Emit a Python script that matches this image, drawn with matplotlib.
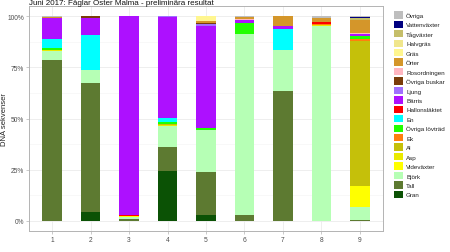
import numpy as np
import matplotlib
matplotlib.use('Agg')
import matplotlib.pyplot as plt
from matplotlib.patches import Patch
from matplotlib.ticker import FixedLocator, PercentFormatter

plt.rcParams['font.family'] = ['Liberation Sans', 'DejaVu Sans']

title = 'Juni 2017: Fåglar Öster Malma - preliminära resultat'
samples = ['1', '2', '3', '4', '5', '6', '7', '8', '9']

# stacking order, bottom to top
groups = ['Gran', 'Tall', 'Björk', 'Videväxter', 'Asp', 'Al', 'Ek', 'Övriga lövträd',
          'En', 'Hallonsläktet', 'Bärris', 'Ljung', 'Övriga buskar', 'Rosordningen',
          'Örter', 'Gräs', 'Halvgräs', 'Tågväxter', 'Vattenväxter', 'Övriga']
colors = ['#0b5205', '#5d7a31', '#b6ffb5', '#ffff00', '#eaea00', '#c5c00a', '#ff7f0e', '#22ff00',
          '#00ffff', '#ff0000', '#ad10ff', '#a070ff', '#7a3c0a', '#ffb6c1',
          '#d4962a', '#fff68f', '#f0e68c', '#c5be6a', '#000080', '#bebebe']

# shares (%) per sample, one list per group
gran          = [0,    4.2,  0,    24.5, 2.8,  0,    0,    0,    0]
tall          = [78.6, 63.1, 0.8,  11.4, 21.2, 2.8,  63.4, 0,    0.5]
bjork         = [4.2,  6.5,  1.2,  10.6, 20.5, 88.4, 20.3, 95.2, 6.0]
videvaxter    = [0.3,  0,    0.3,  0,    0,    0,    0,    0,    10.5]
asp           = [0.2,  0,    0,    0.3,  0,    0,    0,    0.6,  0]
al            = [0.2,  0,    0,    0.3,  0,    0.3,  0,    0,    71.1]
ek            = [0,    0,    0,    0,    0,    0,    0,    0.6,  1.0]
ovriga_lov    = [1.2,  0,    0,    1.1,  1.1,  5.0,  0,    0,    1.2]
en            = [4.4,  17.0, 0,    2.0,  0,    0,    10.0, 0,    0]
hallon        = [0,    0,    0.5,  0,    0,    0,    0,    1.0,  0]
barris        = [9.8,  8.1,  97.2, 49.5, 49.4, 1.7,  1.6,  0,    1.0]
ljung         = [0.2,  0,    0,    0.3,  1.1,  0,    0,    0,    0]
ovriga_buskar = [0,    1.1,  0,    0,    0.8,  0,    0,    0,    0]
rosordningen  = [0,    0,    0,    0,    0,    0.5,  0,    0,    0.5]
orter         = [0.6,  0,    0,    0,    0.8,  0.8,  4.7,  1.6,  6.6]
gras          = [0,    0,    0,    0,    2.3,  0,    0,    0,    0]
halvgras      = [0,    0,    0,    0,    0,    0,    0,    0,    0]
tagvaxter     = [0,    0,    0,    0,    0,    0,    0,    0,    0.6]
vattenvaxter  = [0,    0,    0,    0,    0,    0,    0,    0,    0.6]
ovriga        = [0.3,  0,    0,    0,    0,    0.5,  0,    1.0,  0.4]

values = [gran, tall, bjork, videvaxter, asp, al, ek, ovriga_lov, en, hallon, barris,
          ljung, ovriga_buskar, rosordningen, orter, gras, halvgras, tagvaxter,
          vattenvaxter, ovriga]

fig = plt.figure(figsize=(4.5, 2.53), dpi=100)
ax = fig.add_axes([29 / 450, 21 / 253, 354 / 450, 225 / 253])

x = np.arange(1, len(samples) + 1)
data = np.array(values, dtype=float)
data = data / data.sum(axis=0)
bottom = np.zeros(len(samples))
for name, col, row in zip(groups, colors, data):
    ax.bar(x, row, bottom=bottom, width=0.5, color=col, linewidth=0, zorder=3)
    bottom += row

ax.set_xlim(0.4, len(samples) + 0.6)
ax.set_ylim(-0.05, 1.05)
ax.set_xticks(x)
ax.set_xticklabels(samples)
ax.yaxis.set_major_locator(FixedLocator([0, 0.25, 0.5, 0.75, 1.0]))
ax.yaxis.set_minor_locator(FixedLocator([0.125, 0.375, 0.625, 0.875]))
ax.yaxis.set_major_formatter(PercentFormatter(1.0, decimals=0))
ax.grid(which='major', color='#ebebeb', linewidth=0.6, zorder=0)
ax.grid(which='minor', axis='y', color='#f4f4f4', linewidth=0.4, zorder=0)
ax.tick_params(axis='both', which='major', labelsize=4.8, colors='#b3b3b3',
               labelcolor='#4d4d4d', length=2, width=0.5, pad=1.5)
ax.tick_params(which='minor', length=0)
for s in ax.spines.values():
    s.set_color('#b3b3b3')
    s.set_linewidth(0.7)
ax.set_ylabel('DNA sekvenser', fontsize=5.5, color='#222222')
ax.yaxis.set_label_coords(-21 / 354, 0.5)

fig.text(29 / 450, 1 - 3.5 / 253, title, fontsize=5.8, ha='left', va='center', color='#111111')

handles = [Patch(facecolor=c, edgecolor='none') for c in colors[::-1]]
fig.legend(handles, groups[::-1], loc='upper left', frameon=False,
           bbox_to_anchor=(394 / 450, 1 - 12.2 / 253), bbox_transform=fig.transFigure,
           fontsize=4.5, handlelength=1.44, handleheight=1.44, labelspacing=0.33,
           handletextpad=0.5, borderpad=0, borderaxespad=0, labelcolor='#222222')

fig.savefig('out.png', dpi=100)
